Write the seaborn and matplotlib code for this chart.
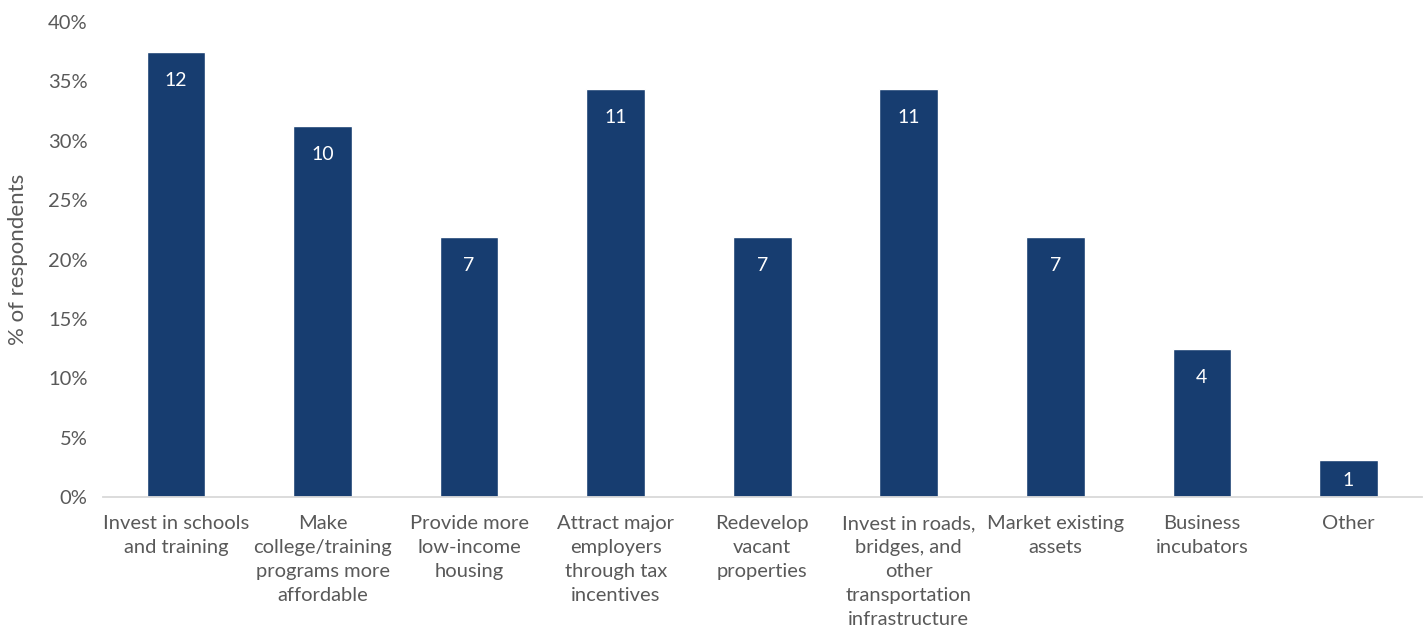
import seaborn as sns
import pandas as pd
import matplotlib.pyplot as plt
from matplotlib.ticker import FuncFormatter

categories = [
    "Invest in schools\nand training",
    "Make\ncollege/training\nprograms more\naffordable",
    "Provide more\nlow-income\nhousing",
    "Attract major\nemployers\nthrough tax\nincentives",
    "Redevelop\nvacant\nproperties",
    "Invest in roads,\nbridges, and\nother\ntransportation\ninfrastructure",
    "Market existing\nassets",
    "Business\nincubators",
    "Other",
]
percent = [37.5, 31.25, 21.9, 34.4, 21.9, 34.4, 21.9, 12.5, 3.1]
counts = [12, 10, 7, 11, 7, 11, 7, 4, 1]

df = pd.DataFrame({"category": categories, "percent": percent, "count": counts})

sns.set_style("white")
plt.rcParams["font.family"] = ["Lato", "DejaVu Sans"]
gray = "#595959"
bar_color = "#173d70"

fig = plt.figure(figsize=(14.26, 6.31), dpi=100)
ax = fig.add_axes([0.072, 0.2124, 0.925, 0.7526])

sns.barplot(data=df, x="category", y="percent", color=bar_color,
            width=0.4, saturation=1, ax=ax)

# labels sit just inside the top of each bar
for i, (p, c) in enumerate(zip(percent, counts)):
    ax.text(i, p - min(2.4, p * 0.55), str(c), ha="center", va="center",
            color="white", fontsize=14)

ax.set_ylim(0, 40)
ax.set_yticks(range(0, 41, 5))
ax.yaxis.set_major_formatter(FuncFormatter(lambda v, _: f"{v:.0f}%"))
ax.set_xlim(-0.5, len(categories) - 0.5)
ax.set_xlabel("")
ax.set_ylabel("% of respondents", color=gray, fontsize=16, labelpad=14)
ax.tick_params(axis="both", colors=gray, labelsize=14.5, length=0)
ax.tick_params(axis="y", pad=11)
ax.tick_params(axis="x", pad=13)
for lbl in ax.get_xticklabels():
    lbl.set_linespacing(1.5)

for side in ["top", "right", "left"]:
    ax.spines[side].set_visible(False)
ax.spines["bottom"].set_color("#d9d9d9")
ax.spines["bottom"].set_linewidth(1.3)

plt.savefig("out.png", dpi=100)
